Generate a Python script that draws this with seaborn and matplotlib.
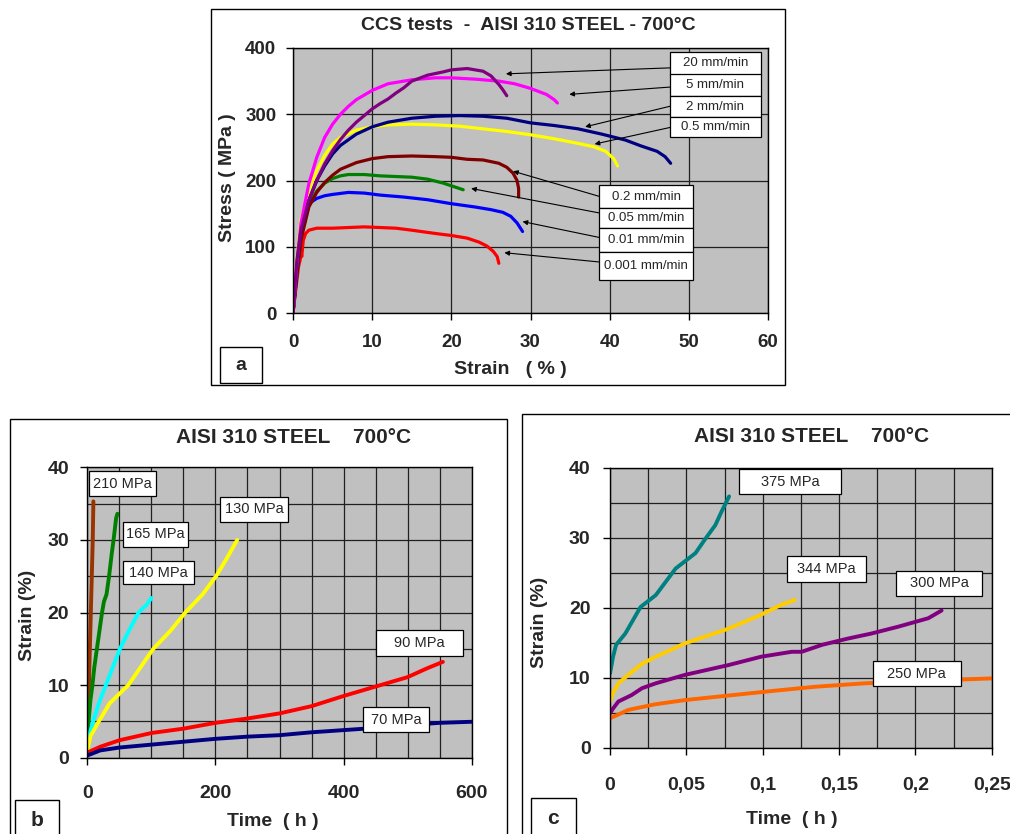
import pandas as pd
import matplotlib
matplotlib.use("Agg")
import matplotlib.pyplot as plt
from matplotlib.patches import Rectangle
from matplotlib.ticker import MultipleLocator, FuncFormatter
import seaborn as sns

# ---------------- data: panel a (CCS tests, strain % / stress MPa)
rates_a = ["20 mm/min", "5 mm/min", "2 mm/min", "0.5 mm/min",
           "0.2 mm/min", "0.05 mm/min", "0.01 mm/min", "0.001 mm/min"]

strain_20 = [0, 0.5, 1, 2, 3, 4, 5, 6, 7, 8, 10, 11, 12, 13, 14, 15, 17, 19, 20, 22, 24, 25, 26, 26.5, 27]
stress_20 = [0, 80, 125, 170, 200, 225, 245, 262, 276, 288, 308, 316, 323, 332, 340, 350, 359, 364, 367, 369, 365, 358, 345, 337, 328]
strain_5 = [0, 0.5, 1, 2, 3, 4, 5, 6, 7, 8, 10, 12, 15, 18, 20, 23, 26, 28, 30, 32, 33, 33.4]
stress_5 = [0, 75, 135, 195, 235, 265, 285, 300, 312, 322, 336, 346, 352, 355, 355, 353, 350, 346, 339, 330, 322, 317]
strain_2 = [0, 0.5, 1, 2, 3, 4, 5, 6, 8, 10, 12, 15, 18, 21, 24, 27, 30, 33, 36, 39, 42, 44, 46, 47, 47.7]
stress_2 = [0, 70, 125, 170, 200, 222, 240, 253, 270, 281, 288, 294, 297, 298, 297, 294, 287, 283, 278, 270, 261, 252, 244, 236, 226]
strain_05 = [0, 0.5, 1, 2, 3, 4, 5, 6, 8, 10, 12, 15, 18, 21, 24, 27, 30, 33, 36, 38, 39.5, 40.5, 41]
stress_05 = [0, 80, 140, 185, 215, 238, 255, 265, 276, 281, 284, 285, 284, 282, 278, 274, 269, 263, 256, 251, 244, 233, 222]
strain_02 = [0, 0.5, 1, 2, 3, 4, 5, 6, 8, 10, 12, 15, 18, 20, 22, 24, 26, 27, 27.8, 28.3, 28.5, 28.5]
stress_02 = [0, 60, 110, 160, 182, 197, 208, 217, 227, 233, 236, 237, 236, 235, 232, 231, 226, 220, 211, 200, 188, 175]
strain_005 = [0, 0.5, 1, 2, 3, 4, 5, 6, 7, 9, 11, 13, 15, 17, 19, 20.5, 21.5]
stress_005 = [0, 60, 115, 162, 184, 196, 203, 207, 209, 209, 207, 206, 205, 202, 196, 190, 186]
strain_001 = [0, 0.5, 0.8, 1, 1.5, 2, 3, 4, 5, 7, 9, 11, 14, 17, 20, 23, 25, 26.5, 27.5, 28.3, 29]
stress_001 = [0, 60, 100, 130, 155, 165, 173, 177, 179, 182, 181, 178, 175, 171, 165, 160, 156, 152, 146, 136, 123]
strain_0001 = [0, 0.4, 0.7, 0.9, 1.0, 1.1, 1.3, 1.6, 2, 3, 5, 7, 9, 11, 13, 15, 18, 20, 22, 23.5, 24.5, 25.3, 25.8, 26]
stress_0001 = [0, 40, 70, 80, 95, 85, 110, 120, 125, 128, 128, 129, 130, 129, 128, 125, 120, 117, 113, 107, 101, 93, 85, 75]

# ---------------- data: panel b (creep, time h / strain %)
loads_b = ["210 MPa", "165 MPa", "140 MPa", "130 MPa", "90 MPa", "70 MPa"]
t_210 = [0, 1, 2.5, 4, 5.5, 7, 8.5, 9.5]
e_210 = [1.5, 5, 10, 15, 20, 25, 30, 35.3]
t_165 = [0, 2, 5, 8, 11, 15, 19, 23, 26, 30, 34, 38, 41, 43, 45, 47]
e_165 = [1.5, 5, 8, 10, 12.5, 15, 17.5, 20, 21.5, 22.5, 25, 28, 30, 31.5, 33, 33.6]
t_140 = [0, 3, 9, 18, 29, 40, 51, 65, 80, 92, 100]
e_140 = [1.2, 3, 5, 7.5, 10, 12.5, 15, 17.5, 20, 21, 22]
t_130 = [0, 5, 18, 35, 64, 103, 130, 153, 180, 201, 218, 234]
e_130 = [1, 3, 5, 7.5, 10, 15, 17.5, 20, 22.5, 25, 27.5, 30]
t_90 = [0, 20, 50, 100, 150, 200, 250, 300, 350, 400, 450, 500, 530, 555]
e_90 = [0.7, 1.5, 2.4, 3.4, 4.0, 4.8, 5.4, 6.1, 7.1, 8.5, 9.8, 11.1, 12.3, 13.2]
t_70 = [0, 20, 50, 100, 150, 200, 250, 300, 350, 400, 450, 500, 550, 600]
e_70 = [0.3, 1.0, 1.4, 1.8, 2.2, 2.6, 2.9, 3.1, 3.5, 3.8, 4.1, 4.5, 4.8, 4.95]

# ---------------- data: panel c (creep, time h / strain %)
loads_c = ["375 MPa", "344 MPa", "300 MPa", "250 MPa"]
t_375 = [0, 0.002, 0.004, 0.01, 0.02, 0.03, 0.043, 0.056, 0.062, 0.069, 0.073, 0.078]
e_375 = [10.6, 13, 14.7, 16.3, 20.1, 21.8, 25.6, 27.8, 29.7, 31.8, 33.7, 35.9]
t_344 = [0, 0.002, 0.0055, 0.013, 0.021, 0.03, 0.049, 0.064, 0.0775, 0.099, 0.112, 0.121]
e_344 = [6.6, 7.8, 9.2, 10.6, 12, 13, 14.9, 16, 17, 19, 20.4, 21.1]
t_300 = [0, 0.002, 0.0055, 0.014, 0.021, 0.03, 0.049, 0.0775, 0.099, 0.119, 0.1255, 0.139, 0.156, 0.171, 0.189, 0.2085, 0.2172]
e_300 = [4.9, 5.6, 6.6, 7.5, 8.5, 9.2, 10.4, 11.8, 13, 13.7, 13.7, 14.7, 15.6, 16.3, 17.3, 18.5, 19.6]
t_250 = [0, 0.012, 0.0295, 0.049, 0.0797, 0.106, 0.134, 0.167, 0.2, 0.25]
e_250 = [4.2, 5.4, 6.2, 6.8, 7.5, 8.1, 8.7, 9.2, 9.5, 9.9]

colors_a = ["#800080", "#FF00FF", "#000080", "#FFFF00", "#800000", "#008000", "#0000FF", "#FF0000"]
colors_b = ["#993300", "#008000", "#00FFFF", "#FFFF00", "#FF0000", "#000080"]
colors_c = ["#008080", "#FFCC00", "#800080", "#FF6600"]


def long_frame(names, xs_list, ys_list):
    parts = []
    for name, xs, ys in zip(names, xs_list, ys_list):
        parts.append(pd.DataFrame({"x": xs, "y": ys, "curve": name}))
    return pd.concat(parts, ignore_index=True)


df_a = long_frame(rates_a,
                  [strain_20, strain_5, strain_2, strain_05, strain_02, strain_005, strain_001, strain_0001],
                  [stress_20, stress_5, stress_2, stress_05, stress_02, stress_005, stress_001, stress_0001])
df_b = long_frame(loads_b, [t_210, t_165, t_140, t_130, t_90, t_70],
                  [e_210, e_165, e_140, e_130, e_90, e_70])
df_c = long_frame(loads_c, [t_375, t_344, t_300, t_250], [e_375, e_344, e_300, e_250])

sns.set_style("ticks", {"axes.facecolor": "#C0C0C0"})
plt.rcParams["font.family"] = ["Liberation Sans", "DejaVu Sans"]
plt.rcParams["font.weight"] = "bold"

W, H = 1010, 834
fig = plt.figure(figsize=(W / 100, H / 100), dpi=100)


def fx(x):
    return x / W


def fy(y):
    return 1 - y / H


def axes_px(left, right, top, bottom):
    return fig.add_axes([fx(left), fy(bottom), (right - left) / W, (bottom - top) / H])


def frame_px(x0, x1, y0, y1, lw=1.0):
    fig.add_artist(Rectangle((fx(x0), fy(y1)), (x1 - x0) / W, (y1 - y0) / H,
                             transform=fig.transFigure, fill=False, ec="black", lw=lw))


def label_box(ax, text, x0, x1, y0, y1, size):
    ax.add_patch(Rectangle((x0, y0), x1 - x0, y1 - y0, facecolor="white", edgecolor="black",
                           lw=0.9, zorder=5, clip_on=False))
    ax.text((x0 + x1) / 2, (y0 + y1) / 2, text, ha="center", va="center",
            fontsize=size, fontweight="normal", zorder=6)


def style_axes(ax, tick_size, xpad, ypad):
    for s in ax.spines.values():
        s.set_color("black")
        s.set_linewidth(1)
    ax.grid(which="both", color="#202020", lw=0.9)
    ax.set_axisbelow(True)
    ax.tick_params(which="major", direction="out", length=5, width=1, color="black",
                   labelsize=tick_size)
    ax.tick_params(axis="x", which="major", pad=xpad)
    ax.tick_params(axis="y", which="major", pad=ypad)
    ax.tick_params(which="minor", length=0)
    ax.set_xlabel("")
    ax.set_ylabel("")


# ---------------- panel a
frame_px(211, 785, 9, 385)
ax_a = axes_px(293, 768, 48, 313)
sns.lineplot(data=df_a, x="x", y="y", hue="curve", hue_order=rates_a[::-1],
             palette=dict(zip(rates_a, colors_a)), sort=False, estimator=None,
             legend=False, lw=2.3, ax=ax_a)
ax_a.set_xlim(0, 60)
ax_a.set_ylim(0, 400)
ax_a.xaxis.set_major_locator(MultipleLocator(10))
ax_a.yaxis.set_major_locator(MultipleLocator(100))
style_axes(ax_a, 13.5, 10, 7)

box_a = [(47.6, 59.1, 360, 394), (47.6, 59.1, 327, 360), (47.6, 59.1, 296, 327), (47.6, 59.1, 266, 296),
         (38.7, 50.5, 158, 193), (38.7, 50.5, 128, 158), (38.7, 50.5, 92, 128), (38.7, 50.5, 50, 92)]
tails_a = [(47.6, 370), (47.6, 341), (47.6, 312), (47.6, 280),
           (38.7, 176), (38.7, 151), (38.7, 114), (38.7, 77)]
tips_a = [(26.9, 361), (34.9, 330), (36.9, 281), (38.1, 255),
          (27.8, 214), (22.5, 188), (29.0, 138), (26.7, 91)]
for name, (x0, x1, y0, y1), tail, tip in zip(rates_a, box_a, tails_a, tips_a):
    ax_a.annotate("", xy=tip, xytext=tail, zorder=4,
                  arrowprops=dict(arrowstyle="-|>", color="black", lw=0.8,
                                  mutation_scale=7, shrinkA=0, shrinkB=0))
    label_box(ax_a, name, x0, x1, y0, y1, 9.5)

fig.text(fx(528), fy(25), "CCS tests  -  AISI 310 STEEL - 700°C", ha="center", va="center", fontsize=14)
fig.text(fx(227), fy(178), "Stress ( MPa )", ha="center", va="center", rotation=90, fontsize=14)
fig.text(fx(510), fy(369), "Strain   ( % )", ha="center", va="center", fontsize=14)
frame_px(220, 262, 347, 383)
fig.text(fx(241), fy(366), "a", ha="center", va="center", fontsize=14)

# ---------------- panel b
frame_px(10, 507, 419, 845)
ax_b = axes_px(87.3, 471.7, 467.3, 757.7)
sns.lineplot(data=df_b, x="x", y="y", hue="curve", hue_order=loads_b,
             palette=dict(zip(loads_b, colors_b)), sort=False, estimator=None,
             legend=False, lw=2.8, ax=ax_b)
ax_b.set_xlim(0, 600)
ax_b.set_ylim(0, 40)
ax_b.xaxis.set_major_locator(MultipleLocator(200))
ax_b.xaxis.set_minor_locator(MultipleLocator(50))
ax_b.yaxis.set_major_locator(MultipleLocator(10))
ax_b.yaxis.set_minor_locator(MultipleLocator(5))
style_axes(ax_b, 14, 15, 8)

box_b = [(2.8, 107, 36.0, 39.5), (55.7, 157, 29.0, 32.5), (55.7, 167, 23.9, 27.1),
         (207.5, 314, 32.5, 35.9), (451, 587, 14.0, 17.6), (431, 533, 3.5, 7.0)]
for name, (x0, x1, y0, y1) in zip(loads_b, box_b):
    label_box(ax_b, name, x0, x1, y0, y1, 10.5)

fig.text(fx(294), fy(438), "AISI 310 STEEL    700°C", ha="center", va="center", fontsize=15)
fig.text(fx(27), fy(615), "Strain (%)", ha="center", va="center", rotation=90, fontsize=14)
fig.text(fx(273), fy(821), "Time  ( h )", ha="center", va="center", fontsize=14)
frame_px(15, 59, 800, 845)
fig.text(fx(37), fy(820), "b", ha="center", va="center", fontsize=15)

# ---------------- panel c
frame_px(522, 1020, 414, 845)
ax_c = axes_px(610, 991.7, 467.7, 747.7)
sns.lineplot(data=df_c, x="x", y="y", hue="curve", hue_order=loads_c,
             palette=dict(zip(loads_c, colors_c)), sort=False, estimator=None,
             legend=False, lw=2.8, ax=ax_c)
ax_c.set_xlim(0, 0.25)
ax_c.set_ylim(0, 40)
ax_c.xaxis.set_major_locator(MultipleLocator(0.05))
ax_c.xaxis.set_minor_locator(MultipleLocator(0.025))
ax_c.yaxis.set_major_locator(MultipleLocator(10))
ax_c.yaxis.set_minor_locator(MultipleLocator(5))
ax_c.xaxis.set_major_formatter(FuncFormatter(lambda v, p: ("%g" % round(v, 3)).replace(".", ",")))
style_axes(ax_c, 14, 16, 9)

box_c = [(0.0847, 0.151, 36.2, 39.8), (0.1157, 0.1675, 23.7, 27.4),
         (0.1873, 0.2439, 21.7, 25.3), (0.172, 0.2297, 8.8, 12.4)]
for name, (x0, x1, y0, y1) in zip(loads_c, box_c):
    label_box(ax_c, name, x0, x1, y0, y1, 10.5)

fig.text(fx(812), fy(436), "AISI 310 STEEL    700°C", ha="center", va="center", fontsize=15)
fig.text(fx(539), fy(622), "Strain (%)", ha="center", va="center", rotation=90, fontsize=14)
fig.text(fx(792), fy(820), "Time  ( h )", ha="center", va="center", fontsize=14)
frame_px(531, 576, 798, 845)
fig.text(fx(553), fy(818), "c", ha="center", va="center", fontsize=15)

fig.savefig("out.png", dpi=100, facecolor="white")
